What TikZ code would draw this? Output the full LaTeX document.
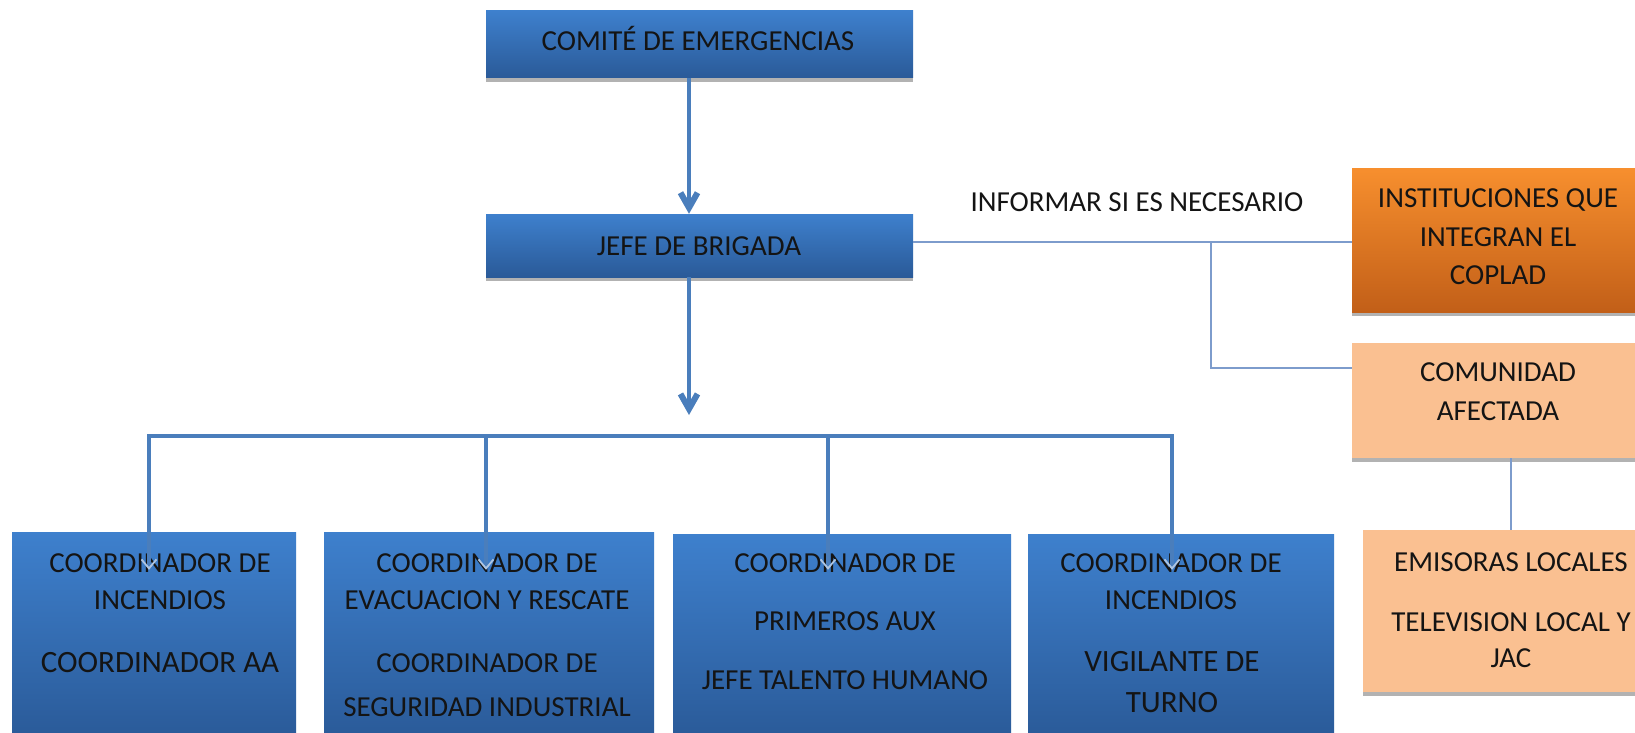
\documentclass[tikz,border=0pt]{standalone}
\usepackage{fontspec}
\setmainfont{Carlito}
\usetikzlibrary{arrows.meta,shadows,calc}
\definecolor{bluetop}{RGB}{62,128,205}
\definecolor{bluebot}{RGB}{42,90,152}
\definecolor{orgtop}{RGB}{247,143,46}
\definecolor{orgbot}{RGB}{194,95,24}
\definecolor{peach}{RGB}{250,192,145}
\definecolor{conn}{RGB}{74,126,188}
\definecolor{thinc}{RGB}{125,156,204}
\definecolor{txtc}{RGB}{20,20,20}
\begin{document}
\begin{tikzpicture}[x=1pt,y=-1pt,
  box/.style={draw=none,inner sep=0pt,rectangle},
  bluebox/.style={box,top color=bluetop,bottom color=bluebot},
  orgbox/.style={box,top color=orgtop,bottom color=orgbot},
  peachbox/.style={box,fill=peach},
  shad/.style={drop shadow={shadow xshift=0pt,shadow yshift=-4pt,opacity=0.3,fill=black}},
  lbl/.style={inner sep=0pt,align=center,text=txtc,font=\fontsize{29}{37}\selectfont},
  biglbl/.style={lbl,font=\fontsize{31}{41}\selectfont},
  mainarrow/.style={draw=conn,line width=4pt,-{Straight Barb[length=15pt,width=17pt,line width=6pt]}},
  bus/.style={draw=conn,line width=4pt,line cap=rect},
  droparrow/.style={draw=conn,line width=4pt,-{Straight Barb[length=9pt,width=15pt,line width=1.8pt,color=conn!45!white]}},
  thinline/.style={draw=thinc,line width=2pt}
]
\useasboundingbox (0,0) rectangle (1635,733);
\fill[white] (0,0) rectangle (1635,733);

% top boxes
\node[bluebox,shad,minimum width=427pt,minimum height=67pt] (comite) at (699.5,44.5) {};
\node[bluebox,shad,minimum width=427pt,minimum height=63pt] (jefe) at (699.5,245.5) {};
\node[lbl,anchor=base] (tcomite) at (698,51) {COMITÉ DE EMERGENCIAS};
\node[lbl,anchor=base] (tjefe) at (699,255) {JEFE DE BRIGADA};

% bottom boxes
\node[bluebox,minimum width=284pt,minimum height=208pt] (b1) at (154,636) {};
\node[bluebox,minimum width=330pt,minimum height=208pt] (b2) at (489,636) {};
\node[bluebox,minimum width=338pt,minimum height=206pt] (b3) at (842,637) {};
\node[bluebox,minimum width=306pt,minimum height=206pt] (b4) at (1181,637) {};

\node[lbl] (t1a) at (160,581.5) {COORDINADOR DE\\INCENDIOS};
\node[biglbl,anchor=base] (t1b) at (160,672) {COORDINADOR AA};
\node[lbl] (t2a) at (487,582) {COORDINADOR DE\\EVACUACION Y RESCATE};
\node[lbl,font=\fontsize{29}{44}\selectfont] (t2b) at (487,685) {COORDINADOR DE\\SEGURIDAD INDUSTRIAL};
\node[lbl,font=\fontsize{29}{58.5}\selectfont] (t3) at (845,621.5) {COORDINADOR DE\\PRIMEROS AUX\\JEFE TALENTO HUMANO};
\node[lbl] (t4a) at (1171,581.5) {COORDINADOR DE\\INCENDIOS};
\node[biglbl] (t4b) at (1172,682.5) {VIGILANTE DE\\TURNO};

% right side boxes
\node[orgbox,shad,minimum width=292pt,minimum height=144pt] (inst) at (1498,240) {};
\node[peachbox,shad,minimum width=292pt,minimum height=115pt] (com) at (1498,400.5) {};
\node[peachbox,shad,minimum width=296pt,minimum height=162pt] (emi) at (1511,611) {};
\node[lbl,font=\fontsize{29}{38.5}\selectfont] (tinst) at (1498,237) {INSTITUCIONES QUE\\INTEGRAN EL\\COPLAD};
\node[lbl,font=\fontsize{29}{39}\selectfont] (tcom) at (1498,391.5) {COMUNIDAD\\AFECTADA};
\node[lbl,anchor=base] (temia) at (1511,571) {EMISORAS LOCALES};
\node[lbl,font=\fontsize{29}{36}\selectfont] (temib) at (1511,640) {TELEVISION LOCAL Y\\JAC};
\node[lbl,anchor=base] (tinf) at (1137,211) {INFORMAR SI ES NECESARIO};

% coordinates
\coordinate (ax) at (689,0);
\coordinate (busarrow) at (689,415);
\coordinate (j1) at (149,436);
\coordinate (j2) at (486,436);
\coordinate (j3) at (828,436);
\coordinate (j4) at (1172,436);
\coordinate (tj) at (1211,242);
\coordinate (tc) at (1211,368);

% main connectors
\draw[mainarrow] (comite.south -| ax) -- (jefe.north -| ax);
\draw[mainarrow] (jefe.south -| ax) -- (busarrow);
\draw[bus] (j1) -- (j4);
\draw[droparrow] (j1) -- ($(b1.north -| j1)+(0,38)$);
\draw[droparrow] (j2) -- ($(b2.north -| j2)+(0,38)$);
\draw[droparrow] (j3) -- ($(b3.north -| j3)+(0,36)$);
\draw[droparrow] (j4) -- ($(b4.north -| j4)+(0,36)$);

% thin connectors
\draw[thinline] (jefe.east |- tj) -- (inst.west |- tj);
\draw[thinline] (tj) -- (tc) -- (tc -| com.west);
\draw[thinline] (com.south -| emi.north) -- (emi.north);
\end{tikzpicture}
\end{document}
